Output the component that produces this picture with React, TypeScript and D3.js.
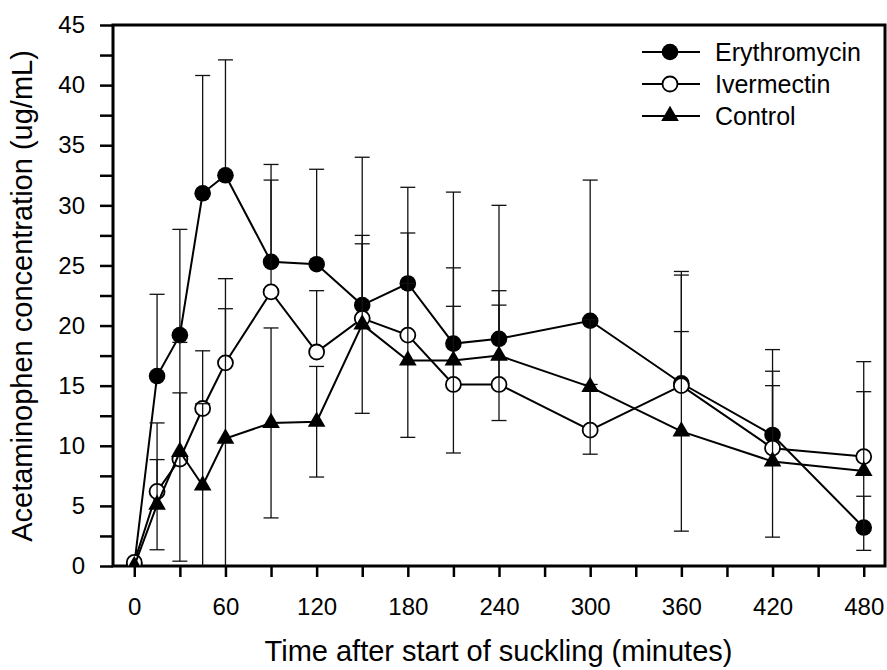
import React, { useEffect, useRef } from "react";
import { select, scaleLinear, axisBottom, axisLeft, line, range, symbol, symbolTriangle } from "d3";

// minutes after start of suckling
const times = [0, 15, 30, 45, 60, 90, 120, 150, 180, 210, 240, 300, 360, 420, 480];

// acetaminophen concentration (ug/mL), error bars
const erythromycin = [0.1, 15.8, 19.2, 31.0, 32.5, 25.3, 25.1, 21.7, 23.5, 18.5, 18.9, 20.4, 15.2, 10.9, 3.2];
const erythromycinErr = [0, 6.8, 8.8, 9.8, 9.6, 8.1, 7.9, 12.3, 8.0, 12.6, 11.1, 11.7, 9.3, 7.1, 2.6];
const ivermectin = [0.3, 6.2, 8.9, 13.1, 16.9, 22.8, 17.8, 20.6, 19.2, 15.1, 15.1, 11.3, 15.0, 9.8, 9.1];
const ivermectinErr = [0, 5.7, 5.5, 4.8, 7.0, 9.3, 5.1, 6.2, 8.5, 6.5, 6.6, 3.8, 9.2, 6.4, 7.9];
const control = [0.0, 5.1, 9.5, 6.7, 10.6, 11.9, 12.0, 20.1, 17.1, 17.1, 17.5, 14.9, 11.2, 8.7, 7.9];
const controlErr = [0, 3.75, 9.1, 6.8, 10.8, 7.9, 4.6, 7.4, 6.4, 7.7, 5.4, 5.6, 8.3, 6.3, 6.6];

const seriesNames = ["Erythromycin", "Ivermectin", "Control"];

const xTicks = range(0, 481, 30);
const yTicks = range(0, 45.01, 2.5);

const W = 887;
const H = 670;
const left = 113, right = 885, top = 25, bottom = 566;
const font = "'Liberation Sans', Arial, sans-serif";

const series = [
  { name: seriesNames[0], values: erythromycin, err: erythromycinErr, dir: "up", marker: "filled" },
  { name: seriesNames[1], values: ivermectin, err: ivermectinErr, dir: "up", marker: "open" },
  { name: seriesNames[2], values: control, err: controlErr, dir: "both", marker: "triangle" },
];

const drawMarker = (g, kind, x, y) => {
  if (kind === "triangle") {
    g.append("path")
      .attr("d", symbol().type(symbolTriangle).size(135)())
      .attr("transform", `translate(${x},${y})`)
      .attr("fill", "#000");
  } else if (kind === "filled") {
    g.append("circle").attr("cx", x).attr("cy", y).attr("r", 8.3).attr("fill", "#000");
  } else {
    g.append("circle").attr("cx", x).attr("cy", y).attr("r", 7.5)
      .attr("fill", "#fff").attr("stroke", "#000").attr("stroke-width", 1.8);
  }
};

const App = () => {
  const svgRef = useRef();

  useEffect(() => {
    const svg = select(svgRef.current);
    svg.selectAll("*").remove();

    const xScale = scaleLinear().domain([-14, 494]).range([left, right]);
    const yScale = scaleLinear().domain([0, 45]).range([bottom, top]);

    svg.append("defs").append("clipPath").attr("id", "plot-clip")
      .append("rect").attr("x", left).attr("y", top)
      .attr("width", right - left).attr("height", bottom - top);

    // axes
    const yAxis = axisLeft(yScale).tickValues(yTicks).tickSize(13).tickPadding(15)
      .tickFormat(d => (d % 5 === 0 ? String(d) : ""));
    const xAxis = axisBottom(xScale).tickValues(xTicks).tickSize(11).tickPadding(21)
      .tickFormat(d => (d % 60 === 0 ? String(d) : ""));

    const gy = svg.append("g").attr("transform", `translate(${left},0)`).call(yAxis);
    const gx = svg.append("g").attr("transform", `translate(0,${bottom})`).call(xAxis);
    [gx, gy].forEach(g => {
      g.select(".domain").remove();
      g.selectAll(".tick line").attr("stroke", "#000").attr("stroke-width", 2.5);
      g.selectAll(".tick text").attr("fill", "#000").style("font-family", font).style("font-size", "24px");
    });

    // frame
    svg.append("rect").attr("x", left).attr("y", top)
      .attr("width", right - left).attr("height", bottom - top)
      .attr("fill", "none").attr("stroke", "#000").attr("stroke-width", 3);

    const plot = svg.append("g").attr("clip-path", "url(#plot-clip)");
    const lineGen = line().x(d => xScale(d[0])).y(d => yScale(d[1]));

    series.forEach(s => {
      const g = plot.append("g");
      // error bars
      s.values.forEach((v, i) => {
        const e = s.err[i];
        if (!e) return;
        const x = xScale(times[i]);
        const hi = yScale(v + e);
        const lo = s.dir === "both" ? yScale(v - e) : yScale(v);
        g.append("line").attr("x1", x).attr("x2", x).attr("y1", hi).attr("y2", lo)
          .attr("stroke", "#111").attr("stroke-width", 1.3);
        g.append("line").attr("x1", x - 7.5).attr("x2", x + 7.5).attr("y1", hi).attr("y2", hi)
          .attr("stroke", "#111").attr("stroke-width", 1.3);
        if (s.dir === "both") {
          g.append("line").attr("x1", x - 7.5).attr("x2", x + 7.5).attr("y1", lo).attr("y2", lo)
            .attr("stroke", "#111").attr("stroke-width", 1.3);
        }
      });
      g.append("path")
        .attr("d", lineGen(times.map((t, i) => [t, s.values[i]])))
        .attr("fill", "none").attr("stroke", "#000").attr("stroke-width", 2);
      s.values.forEach((v, i) => drawMarker(g, s.marker, xScale(times[i]), yScale(v)));
    });

    // legend
    const legend = svg.append("g");
    series.forEach((s, i) => {
      const y = 52 + i * 32;
      legend.append("line").attr("x1", 642).attr("x2", 700).attr("y1", y).attr("y2", y)
        .attr("stroke", "#000").attr("stroke-width", 2);
      drawMarker(legend, s.marker, 670, y);
      legend.append("text").attr("x", 715).attr("y", y + 9)
        .style("font-family", font).style("font-size", "25px").attr("fill", "#000")
        .text(s.name);
    });

    // axis titles
    svg.append("text")
      .attr("x", (258 + 739) / 2).attr("y", 661)
      .attr("text-anchor", "middle")
      .style("font-family", font).style("font-size", "29px")
      .text("Time after start of suckling (minutes)");

    svg.append("text")
      .attr("transform", `translate(32,296) rotate(-90)`)
      .attr("text-anchor", "middle")
      .style("font-family", font).style("font-size", "29px")
      .text("Acetaminophen concentration (ug/mL)");
  }, []);

  return (
    <div style={{ position: "absolute", left: 0, top: 0 }}>
      <svg ref={svgRef} width={W} height={H} style={{ display: "block", background: "#fff" }} />
    </div>
  );
};

export default App;
